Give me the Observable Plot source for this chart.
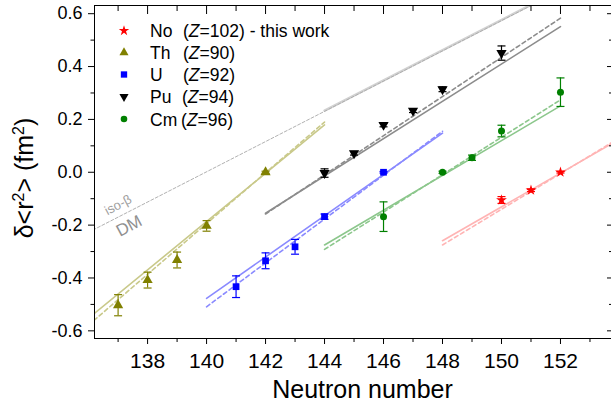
<!DOCTYPE html>
<html><head><meta charset="utf-8">
<script src="https://cdn.jsdelivr.net/npm/d3@7"></script>
<script src="https://cdn.jsdelivr.net/npm/@observablehq/plot@0.6"></script>
<style>body{margin:0;background:#fff} svg{display:block}</style>
</head><body><div id="chart"></div>
<script>
// ---- data ----
const series = ["No", "Th", "U", "Pu", "Cm"];
const seriesZ = ["102", "90", "92", "94", "96"];
const markColor = {No: "#ff0000", Th: "#808000", U: "#0000ff", Pu: "#000000", Cm: "#008000"};
const lineColor = {No: "#ffb4b4", Th: "#c9c98a", U: "#8a8aff", Pu: "#8c8c8c", Cm: "#8cc78c", Ref: "#b0b0b0"};

const N_Th = [137, 138, 139, 140, 142];
const dr_Th = [-0.503, -0.408, -0.332, -0.203, 0];
const err_Th = [0.04, 0.03, 0.03, 0.02, 0.004];

const N_U = [141, 142, 143, 144, 146];
const dr_U = [-0.433, -0.335, -0.282, -0.168, 0];
const err_U = [0.041, 0.03, 0.028, 0.01, 0.003];

const N_Pu = [144, 145, 146, 147, 148, 150];
const dr_Pu = [-0.003, 0.072, 0.179, 0.233, 0.314, 0.451];
const err_Pu = [0.016, 0.007, 0.007, 0.007, 0.009, 0.027];

const N_Cm = [146, 148, 149, 150, 152];
const dr_Cm = [-0.168, 0, 0.055, 0.156, 0.303];
const err_Cm = [0.056, 0.004, 0.01, 0.022, 0.054];

const N_No = [150, 151, 152];
const dr_No = [-0.105, -0.068, 0];
const err_No = [0.013, 0.005, 0.003];

// model lines: DM (solid) and iso-beta (dashed), endpoints
const lineN_Th = [136, 144], DM_Th = [-0.552, 0.179], iso_Th = [-0.578, 0.19];
const lineN_U = [140, 148],  DM_U = [-0.477, 0.148],  iso_U = [-0.509, 0.155];
const lineN_Pu = [142, 152], DM_Pu = [-0.155, 0.551], iso_Pu = [-0.158, 0.583];
const lineN_Cm = [144, 152], DM_Cm = [-0.275, 0.251], iso_Cm = [-0.292, 0.274];
const lineN_No = [148, 154], DM_No = [-0.259, 0.125], iso_No = [-0.275, 0.13];
const lineN_RefIso = [136, 152], iso_Ref = [-0.227, 0.688];
const lineN_RefDM = [144, 152], DM_Ref = [0.233, 0.691];

// annotation labels
const annText = ["iso-β", "DM"];
const annN = [137.0, 137.37];
const annV = [-0.124, -0.203];
const annSize = [13, 17];
const annFill = ["#a0a0a0", "#909090"];

const xMajor = [138, 140, 142, 144, 146, 148, 150, 152];
const xMinor = [137, 139, 141, 143, 145, 147, 149, 151, 153];
const yMajor = [-0.6, -0.4, -0.2, 0.0, 0.2, 0.4, 0.6];
const yMinor = [-0.5, -0.3, -0.1, 0.1, 0.3, 0.5];

// ---- build tables ----
const pts = {
  Th: N_Th.map((n, i) => ({N: n, v: dr_Th[i], e: err_Th[i]})),
  U: N_U.map((n, i) => ({N: n, v: dr_U[i], e: err_U[i]})),
  Pu: N_Pu.map((n, i) => ({N: n, v: dr_Pu[i], e: err_Pu[i]})),
  Cm: N_Cm.map((n, i) => ({N: n, v: dr_Cm[i], e: err_Cm[i]})),
  No: N_No.map((n, i) => ({N: n, v: dr_No[i], e: err_No[i]}))
};
function seg(key, ns, vs) { return ns.map((n, i) => ({key, N: n, v: vs[i]})); }
const dmLines = [
  ...seg("Th", lineN_Th, DM_Th), ...seg("U", lineN_U, DM_U), ...seg("Pu", lineN_Pu, DM_Pu),
  ...seg("Cm", lineN_Cm, DM_Cm), ...seg("No", lineN_No, DM_No)
];
const isoLines = [
  ...seg("Th", lineN_Th, iso_Th), ...seg("U", lineN_U, iso_U), ...seg("Pu", lineN_Pu, iso_Pu),
  ...seg("Cm", lineN_Cm, iso_Cm), ...seg("No", lineN_No, iso_No)
];
const refIso = seg("Ref", lineN_RefIso, iso_Ref);
const refDM = seg("Ref", lineN_RefDM, DM_Ref);
const ann = annText.map((t, i) => ({t, N: annN[i], v: annV[i], s: annSize[i], f: annFill[i]}));

const capSymbol = {draw(ctx, size) { const w = Math.sqrt(size / Math.PI); ctx.moveTo(-w, 0); ctx.lineTo(w, 0); }};
const symbols = {Th: "triangle", U: "square", Pu: "triangle", Cm: "circle", No: "star"};
const symR = {Th: 3.8, U: 3.8, Pu: 3.8, Cm: 3.5, No: 3.4};
const symRot = {Th: 0, U: 0, Pu: 180, Cm: 0, No: 0};

const fmt = d => (Math.abs(d) < 1e-9 ? "0.0" : d.toFixed(1));
const none = () => "";

const marks = [
  // reference gray lines
  Plot.line(refDM, {x: "N", y: "v", stroke: "#d2d2d2", strokeWidth: 2.5, clip: true}),
  Plot.line(refIso, {x: "N", y: "v", stroke: "#a8a8a8", strokeWidth: 0.9, strokeDasharray: "3,2", clip: true}),
  // model lines
  Plot.line(dmLines, {x: "N", y: "v", z: "key", stroke: d => lineColor[d.key], strokeWidth: 1.6, clip: true}),
  Plot.line(isoLines, {x: "N", y: "v", z: "key", stroke: d => lineColor[d.key], strokeWidth: 1.6, strokeDasharray: "4,3", clip: true}),
  Plot.text(ann, {x: "N", y: "v", text: "t", fontSize: d => d.s, fill: "f", rotate: -28})
];
for (const s of ["Th", "U", "Pu", "Cm", "No"]) {
  const d = pts[s];
  marks.push(
    Plot.ruleX(d, {x: "N", y1: p => p.v - p.e, y2: p => p.v + p.e, stroke: markColor[s], strokeWidth: 1.2}),
    Plot.dot(d, {x: "N", y: p => p.v - p.e, symbol: capSymbol, r: 4, stroke: markColor[s], strokeWidth: 1.2, fill: "none"}),
    Plot.dot(d, {x: "N", y: p => p.v + p.e, symbol: capSymbol, r: 4, stroke: markColor[s], strokeWidth: 1.2, fill: "none"}),
    Plot.dot(d, {x: "N", y: "v", symbol: symbols[s], r: symR[s], rotate: symRot[s], fill: markColor[s], stroke: "none"})
  );
}
marks.push(
  Plot.frame({stroke: "black", strokeWidth: 1}),
  Plot.axisX({anchor: "bottom", ticks: xMajor, tickSize: 6, tickPadding: 9, fontSize: 21, label: null, tickFormat: d => String(d)}),
  Plot.axisX({anchor: "bottom", ticks: xMinor, tickSize: 4, label: null, tickFormat: none}),
  Plot.axisX({anchor: "top", ticks: xMajor, tickSize: -8, label: null, tickFormat: none}),
  Plot.axisX({anchor: "top", ticks: xMinor, tickSize: -5, label: null, tickFormat: none}),
  Plot.axisY({anchor: "left", ticks: yMajor, tickSize: 6, tickPadding: 6, fontSize: 18, label: null, tickFormat: fmt}),
  Plot.axisY({anchor: "left", ticks: yMinor, tickSize: 3.5, label: null, tickFormat: none}),
  Plot.axisY({anchor: "right", ticks: yMajor, tickSize: -5, label: null, tickFormat: none}),
  Plot.axisY({anchor: "right", ticks: yMinor, tickSize: -3, label: null, tickFormat: none})
);

const plot = Plot.plot({
  width: 611, height: 407,
  marginLeft: 94, marginRight: 0, marginTop: 5, marginBottom: 69,
  x: {domain: [136.2, 153.73]},
  y: {domain: [-0.629, 0.631]},
  style: {fontFamily: "'Liberation Sans', Arial, sans-serif", color: "black", background: "white", overflow: "visible"},
  marks
});
document.getElementById("chart").appendChild(plot);

// ---- titles and legend ----
const svg = d3.select(plot);
const FF = "'Liberation Sans', Arial, sans-serif";
svg.append("text").attr("x", 362.5).attr("y", 398).attr("text-anchor", "middle")
  .attr("font-family", FF).attr("font-size", 25).attr("fill", "black").text("Neutron number");

const yl = svg.append("text").attr("transform", "translate(33,178) rotate(-90)").attr("text-anchor", "middle")
  .attr("font-family", FF).attr("font-size", 25).attr("fill", "black");
yl.append("tspan").text("δ<r");
yl.append("tspan").attr("font-size", 16).attr("dy", -9).text("2");
yl.append("tspan").attr("dy", 9).text("> (fm");
yl.append("tspan").attr("font-size", 16).attr("dy", -9).text("2");
yl.append("tspan").attr("dy", 9).text(")");

const legendSym = {No: d3.symbolStar, Th: d3.symbolTriangle, U: d3.symbolSquare, Pu: d3.symbolTriangle, Cm: d3.symbolCircle};
const legendSize = {No: 34, Th: 36, U: 40, Pu: 36, Cm: 34};
const rowY = [30.7, 52.5, 74.5, 96.7, 119];
const parenX = {No: 183, Th: 183, U: 183, Pu: 182, Cm: 181};
const lg = svg.append("g").attr("font-family", FF).attr("font-size", 17.5).attr("fill", "black").attr("text-anchor", "start");
series.forEach((s, i) => {
  const y = rowY[i];
  lg.append("path").attr("d", d3.symbol(legendSym[s], legendSize[s])())
    .attr("transform", `translate(124,${y}) rotate(${s === "Pu" ? 180 : 0})`).attr("fill", markColor[s]);
  lg.append("text").attr("x", 150).attr("y", y + 6.5).attr("text-anchor", "start").text(s);
  const t = lg.append("text").attr("x", parenX[s]).attr("y", y + 6.5).attr("text-anchor", "start");
  t.append("tspan").text("(");
  t.append("tspan").attr("font-style", "italic").text("Z");
  t.append("tspan").text("=" + seriesZ[i] + ")" + (s === "No" ? " - this work" : ""));
});
</script>
</body></html>
